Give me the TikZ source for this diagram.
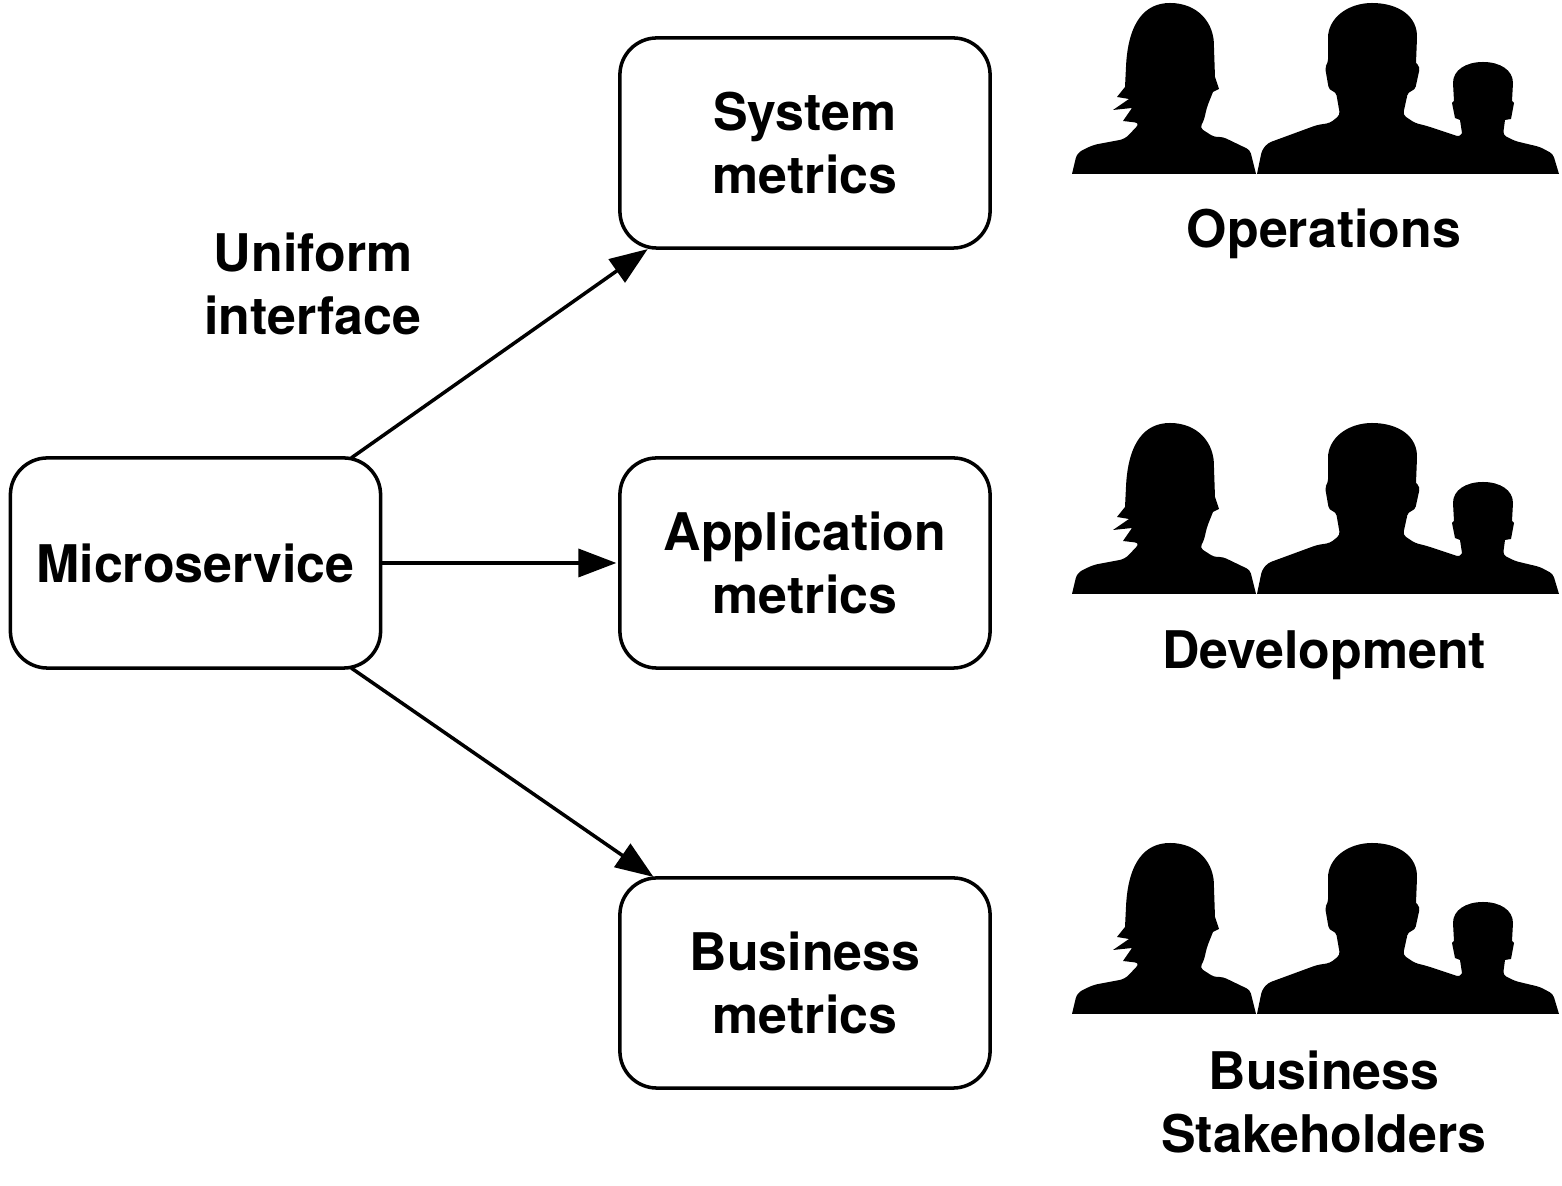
\documentclass[tikz,border=0pt]{standalone}
\usepackage{fontspec}
\setmainfont{TeX Gyre Heros}
\usetikzlibrary{arrows.meta}
\tikzset{
  metricbox/.style={draw,line width=1pt,rounded corners=0.37cm,minimum width=3.70cm,minimum height=2.10cm,outer sep=0pt,align=center,font=\labelfont},
  caption/.style={align=center,inner sep=0pt,font=\labelfont},
  flow/.style={line width=1pt,-{Triangle[length=0.38cm,width=0.28cm]}},
  people/.pic={
    \fill (1072,174) [rounded corners=1.5pt] -- (1077,153) -- (1093,145) -- (1125,139) -- (1140,123)
      [sharp corners] -- (1123,121) -- (1132,108) -- (1113,110) -- (1129,99) -- (1117,97) -- (1125,87) -- (1126,67)
      .. controls (1128,22) and (1145,3) .. (1170,3) .. controls (1197,3) and (1215,22) .. (1214,48)
      -- (1215,77) -- (1219,89) -- (1213,92)
      [rounded corners=1pt] -- (1207,107) -- (1204,120) -- (1200,128) -- (1214,137) -- (1223,137) -- (1250,150)
      [sharp corners] -- (1256,174) -- cycle;
    \fill (1257,174) [rounded corners=1pt] -- (1262,150) -- (1268,143) -- (1317,125) -- (1330,123) -- (1340,115) -- (1336,92) -- (1329,90) -- (1325,67) -- (1328,63)
      [sharp corners] -- (1328,38) .. controls (1328,18) and (1348,3) .. (1372,3) .. controls (1398,3) and (1418,16) .. (1417,38) -- (1416,63)
      [rounded corners=1pt] -- (1420,67) -- (1415,90) -- (1408,92) -- (1403,115) -- (1415,123) -- (1427,126) -- (1460,137)
      [sharp corners] -- (1462,133) -- (1460,120) -- (1455,118) -- (1452,103) -- (1454,101) -- (1453,83)
      .. controls (1453,70) and (1466,62) .. (1483,62) .. controls (1500,62) and (1513,70) .. (1513,83)
      -- (1512,101) -- (1514,103) -- (1511,119) -- (1505,120)
      [rounded corners=1pt] -- (1503,135) -- (1515,141) -- (1540,147) -- (1553,154)
      [sharp corners] -- (1559,174) -- cycle;
  }
}
\newcommand{\labelfont}{\fontsize{14.75pt}{18.15pt}\bfseries\selectfont}
\begin{document}
\begin{tikzpicture}[x=0.01cm,y=-0.01cm]
  \useasboundingbox (0,0) rectangle (1562,1186);
  \node[metricbox] (micro) at (195.5,563) {Microservice};
  \node[metricbox] (system) at (805,143) {System\\metrics};
  \node[metricbox] (application) at (805,563) {Application\\metrics};
  \node[metricbox] (business) at (805,983) {Business\\metrics};
  \draw[flow,shorten >=0.5pt] (micro.34.75) to (system.214.75);
  \draw[flow,shorten >=1pt] (micro.east) to (application.west);
  \draw[flow,shorten >=0.5pt] (micro.-34.75) to (business.145.25);
  \node[caption] (uniform) at (313,284) {Uniform\\interface};
  \pic at (0,0) {people};
  \pic at (0,420) {people};
  \pic at (0,840) {people};
  \node[caption] (operations) at (1324,234) {Operations};
  \node[caption] (development) at (1324,655) {Development};
  \node[caption] (stakeholders) at (1324,1102) {Business\\Stakeholders};
\end{tikzpicture}
\end{document}
